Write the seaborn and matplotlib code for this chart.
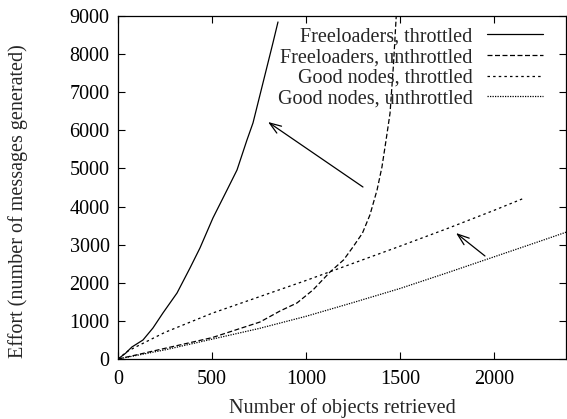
import pandas as pd
import matplotlib
matplotlib.use("Agg")
import matplotlib.pyplot as plt
import seaborn as sns

# look of the old gnuplot figure
sns.set_theme(style="ticks")
plt.rcParams["font.family"] = ["Liberation Serif", "DejaVu Serif"]
FS = 14.5

# ----------------------------------------------------------
# data
# ----------------------------------------------------------
free_thr_x = [0, 40, 74, 133, 186, 239, 314, 383, 436, 505, 580, 633, 686, 718, 771, 824, 851]
free_thr_y = [0, 150, 315, 499, 814, 1207, 1732, 2388, 2913, 3700, 4435, 4959, 5747, 6193, 7242, 8292, 8843]

free_unthr_x = [0, 100, 250, 500, 755, 862, 952, 1037, 1128, 1200, 1250, 1300, 1340, 1378,
                1404, 1426, 1447, 1465, 1480]
free_unthr_y = [0, 110, 280, 560, 970, 1260, 1470, 1811, 2283, 2600, 2940, 3300, 3779, 4435,
                5038, 5747, 6450, 7700, 9000]

good_thr_x = [0, 50, 100, 250, 500, 750, 1000, 1250, 1500, 1750, 2000, 2150]
good_thr_y = [0, 200, 330, 700, 1200, 1630, 2060, 2510, 2960, 3420, 3900, 4200]

good_unthr_x = [0, 250, 500, 750, 1000, 1250, 1500, 1750, 2000, 2250, 2388]
good_unthr_y = [0, 240, 520, 800, 1120, 1480, 1850, 2260, 2680, 3100, 3335]

labels = ["Freeloaders, throttled", "Freeloaders, unthrottled",
          "Good nodes, throttled", "Good nodes, unthrottled"]

xticks = [0, 500, 1000, 1500, 2000]
yticks = list(range(0, 9001, 1000))

# arrows (tail -> head) in data units
arrows = [((1303, 4513), (798, 6219)), ((1952, 2703), (1798, 3306))]

# ----------------------------------------------------------
# plot
# ----------------------------------------------------------
fig = plt.figure(figsize=(5.67, 4.19), dpi=100)
ax = fig.add_axes([118 / 567, 1 - 359 / 419, 448 / 567, 343 / 419])

series = [(free_thr_x, free_thr_y, None),
          (free_unthr_x, free_unthr_y, (4, 2)),
          (good_thr_x, good_thr_y, (2, 2.5)),
          (good_unthr_x, good_unthr_y, (1, 1))]

for (xs, ys, dash), lab in zip(series, labels):
    df = pd.DataFrame({"x": xs, "y": ys})
    sns.lineplot(data=df, x="x", y="y", ax=ax, color="black", lw=0.9,
                 label=lab, sort=False, estimator=None)
    if dash is not None:
        ax.lines[-1].set_dashes(dash)

for (tail, head) in arrows:
    ax.annotate("", xy=head, xytext=tail,
                arrowprops=dict(arrowstyle="->,head_length=0.7,head_width=0.25",
                                color="black", lw=0.9, shrinkA=0, shrinkB=0))

ax.set_xlim(0, 2383)
ax.set_ylim(0, 9000)
ax.set_xticks(xticks)
ax.set_yticks(yticks)
ax.tick_params(direction="in", length=5, width=0.8, top=True, right=True,
               labelsize=FS, pad=6, colors="black")
ax.tick_params(axis="x", pad=8)
for s in ax.spines.values():
    s.set_color("black")
    s.set_linewidth(0.9)

ax.set_xlabel("Number of objects retrieved", fontsize=FS)
ax.xaxis.set_label_coords(0.5, -0.115)
ax.set_ylabel("Effort (number of messages generated)", fontsize=FS)
ax.yaxis.set_label_coords(-0.2, 0.46)

leg = ax.legend(loc="upper right", bbox_to_anchor=(0.9487, 0.967), frameon=False,
                markerfirst=False, handlelength=2.8, handletextpad=0.7,
                labelspacing=0.08, borderaxespad=0, borderpad=0, fontsize=FS)
for col in leg._legend_handle_box.get_children():
    col.align = "right"

fig.savefig("out.png", dpi=100)
